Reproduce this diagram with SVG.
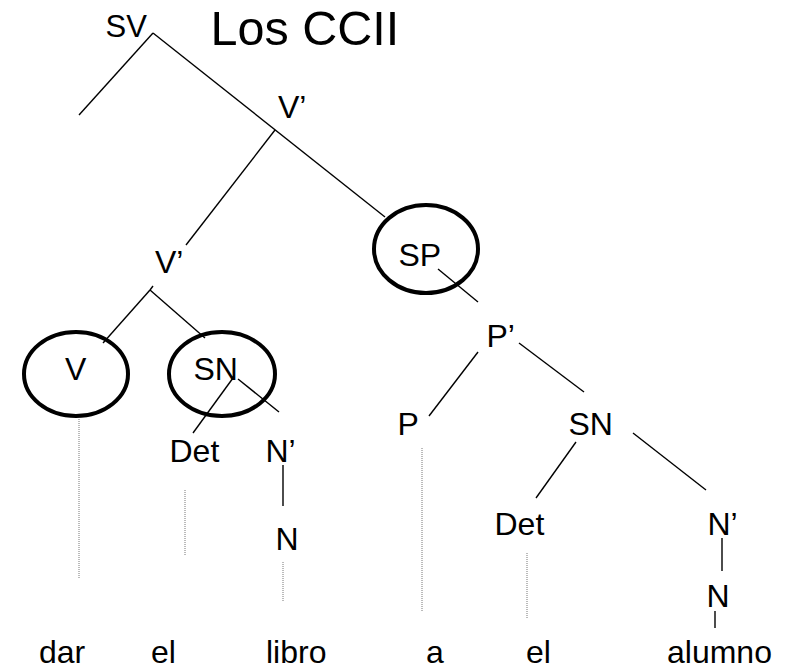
<svg xmlns="http://www.w3.org/2000/svg" width="788" height="669" viewBox="0 0 788 669">
<style>
text{font-family:"Liberation Sans",Arial,sans-serif;font-size:32px;fill:#000}
.t{font-size:48.5px}
.e{fill:none;stroke:#000;stroke-width:4}
.c line{stroke:#000;stroke-width:1.4}
.c line.d{stroke:#777;stroke-width:1;stroke-dasharray:1 1}
</style>
<rect width="788" height="669" fill="#fff"/>
<text class="t" x="210.5" y="45">Los CCII</text>
<g class="c" id="connectors">
<line x1="153" y1="33" x2="79" y2="115"/>
<line x1="153" y1="33" x2="385" y2="217"/>
<line x1="275" y1="130" x2="186" y2="245"/>
<line x1="150" y1="290" x2="153" y2="286"/>
<line x1="150" y1="290" x2="103" y2="343"/>
<line x1="150" y1="290" x2="205" y2="338"/>
<line x1="233" y1="378" x2="193" y2="433"/>
<line x1="238" y1="379" x2="279" y2="412"/>
<line x1="283" y1="465" x2="283" y2="506"/>
<line x1="438" y1="269" x2="478" y2="302"/>
<line x1="478" y1="352" x2="429" y2="416"/>
<line x1="519" y1="343" x2="584" y2="392"/>
<line x1="576" y1="442" x2="536" y2="498"/>
<line x1="633" y1="433" x2="706" y2="490"/>
<line x1="722" y1="538" x2="722" y2="571"/>
<line x1="715" y1="611" x2="715" y2="628"/>
<line class="d" x1="79" y1="419" x2="79" y2="578"/>
<line class="d" x1="185" y1="490" x2="185" y2="555"/>
<line class="d" x1="283" y1="562" x2="283" y2="602"/>
<line class="d" x1="422" y1="448" x2="422" y2="612"/>
<line class="d" x1="527" y1="553" x2="527" y2="619"/>
</g>
<g id="n-sv"><text x="105.5" y="37" style="font-size:31px">SV</text></g>
<g id="n-v1"><text x="278" y="118">V’</text></g>
<g id="n-v2"><text x="155" y="273">V’</text></g>
<g id="n-v"><ellipse class="e" cx="76" cy="374" rx="52" ry="42"/><text x="65" y="380">V</text></g>
<g id="n-sn1"><ellipse class="e" cx="222" cy="374" rx="53" ry="42"/><text x="193.5" y="380">SN</text></g>
<g id="n-det1"><text x="169.5" y="462">Det</text></g>
<g id="n-nb1"><text x="265.5" y="462">N’</text></g>
<g id="n-n1"><text x="275.5" y="550">N</text></g>
<g id="n-sp"><ellipse class="e" cx="426" cy="249" rx="52" ry="44"/><text x="398.5" y="266">SP</text></g>
<g id="n-pb"><text x="486.5" y="347">P’</text></g>
<g id="n-p"><text x="397.5" y="435">P</text></g>
<g id="n-sn2"><text x="568.5" y="435">SN</text></g>
<g id="n-det2"><text x="494.5" y="535">Det</text></g>
<g id="n-nb2"><text x="707.5" y="535">N’</text></g>
<g id="n-n2"><text x="706.5" y="607">N</text></g>
<g id="w-dar"><text x="39" y="663">dar</text></g>
<g id="w-el1"><text x="151" y="663">el</text></g>
<g id="w-libro"><text x="266" y="663">libro</text></g>
<g id="w-a"><text x="426" y="663">a</text></g>
<g id="w-el2"><text x="526" y="663">el</text></g>
<g id="w-alumno"><text x="667" y="663">alumno</text></g>
</svg>
